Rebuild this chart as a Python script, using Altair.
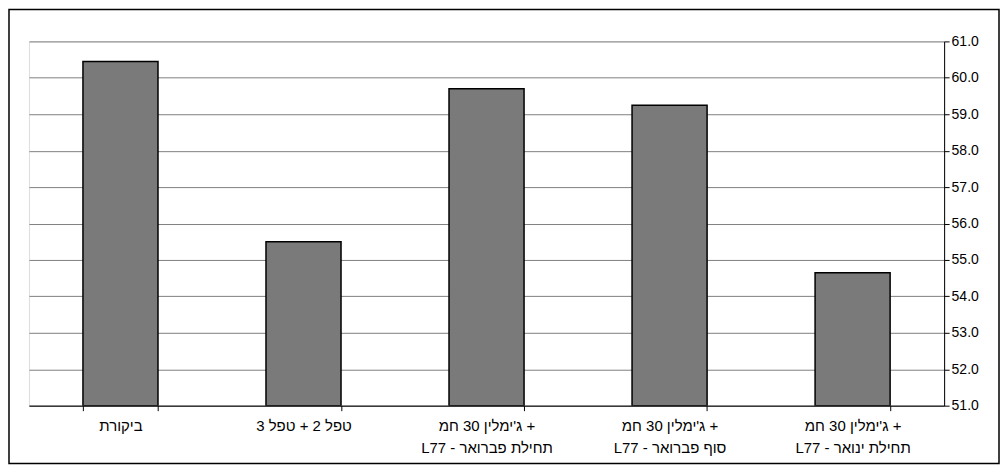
import altair as alt
import pandas as pd

categories = [
    "ביקורת",
    "טפל 2 + טפל 3",
    "ג'ימלין 30 חמ +\nL77 - תחילת פברואר",
    "ג'ימלין 30 חמ +\nL77 - סוף פברואר",
    "ג'ימלין 30 חמ +\nL77 - תחילת ינואר",
]
values = [60.45, 55.5, 59.7, 59.25, 54.65]

df = pd.DataFrame({"cat": categories, "val": values})
W, H = 917, 365

bars = (
    alt.Chart(df)
    .mark_bar(fill="#7a7a7a", stroke="black", strokeWidth=1.5, clip=True)
    .encode(
        x=alt.X(
            "cat:N",
            sort=categories,
            title=None,
            scale=alt.Scale(paddingInner=0.59, paddingOuter=0.295),
            axis=alt.Axis(
                labelAngle=0,
                labelExpr="split(datum.label, '\\n')",
                labelFont="Liberation Sans Narrow, Liberation Sans",
                labelFontSize=15,
                labelColor="black",
                labelPadding=8,
                labelLineHeight=22,
                tickBand="extent",
                domainColor="black",
                tickColor="black",
                labelLimit=300,
            ),
        ),
        y=alt.Y(
            "val:Q",
            title=None,
            scale=alt.Scale(domain=[51, 61], nice=False, zero=False),
            axis=alt.Axis(
                orient="right",
                values=[51, 52, 53, 54, 55, 56, 57, 58, 59, 60, 61],
                format=".1f",
                labelFont="Liberation Sans",
                labelFontSize=14,
                labelColor="black",
                gridColor="#808080",
                gridOpacity=1,
                domainColor="black",
                tickColor="black",
            ),
        ),
        y2=alt.datum(51),
    )
)

border = (
    alt.Chart(pd.DataFrame({"a": [0]}))
    .mark_rect(fill=None, stroke="black", strokeWidth=1.5)
    .encode(
        x=alt.value(-20), x2=alt.value(W + 55),
        y=alt.value(-32), y2=alt.value(H + 58),
    )
)

chart = (
    alt.layer(bars, border)
    .properties(width=W, height=H, padding=0)
    .configure_view(stroke="#808080")
    .configure(background="white")
)

chart.save("out.html", embed_options={"renderer": "svg", "actions": False})
